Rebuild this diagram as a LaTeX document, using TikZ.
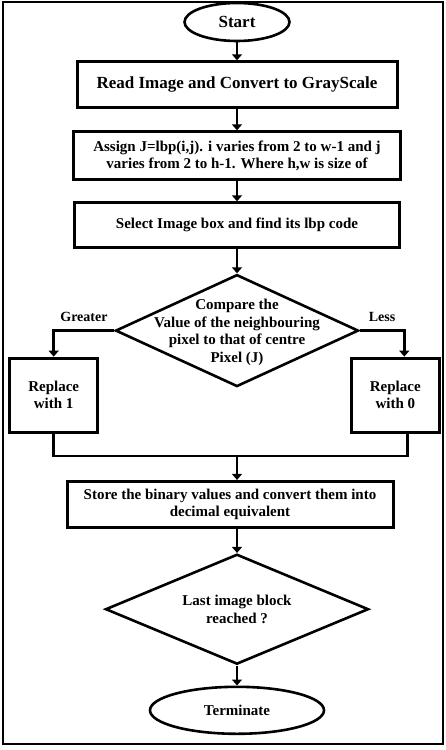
\documentclass[tikz,border=0pt]{standalone}
\usepackage{fontspec}
\setmainfont{Liberation Serif}
\usetikzlibrary{positioning, arrows.meta, shapes.geometric, calc}

\begin{document}
\begin{tikzpicture}[x=1pt, y=1pt,
        term/.style={ellipse, draw=black, line width=2.6pt, minimum width=105pt, minimum height=38pt,
                     inner sep=0pt, font=\fontsize{17}{19}\selectfont\bfseries},
        box/.style={rectangle, draw=black, line width=3pt, minimum width=325pt, minimum height=46pt,
                    inner sep=2pt, align=center, font=\fontsize{15}{17.5}\selectfont\bfseries},
        sbox/.style={rectangle, draw=black, line width=3pt, minimum width=88pt, minimum height=74pt,
                     align=center, font=\fontsize{15}{17.5}\selectfont\bfseries},
        dec/.style={diamond, draw=black, line width=2.6pt, inner sep=0pt},
        dtext/.style={align=center, inner sep=0pt, font=\fontsize{15}{17.5}\selectfont\bfseries},
        lbl/.style={font=\fontsize{14}{16}\selectfont\bfseries},
        arrow/.style={-{Triangle[width=10pt, length=6pt]}, line width=2.6pt, draw=black},
        line/.style={line width=2.6pt, draw=black}
    ]
        \useasboundingbox (0,0) rectangle (446,-750);
        \draw[line width=2.5pt] (3,-2) rectangle (443,-744);

        \node[term] (start) at (237,-22) {Start};
        \node[box, minimum width=320pt, below=18pt of start,
              font=\fontsize{17}{19}\selectfont\bfseries] (read) {Read Image and Convert to GrayScale};
        \node[box, minimum width=327pt, minimum height=48pt, below=21pt of read] (assign)
             {Assign J=lbp(i,j). i varies from 2 to w-1 and j\\varies from 2 to h-1. Where h,w is size of};
        \node[box, minimum height=45pt, below=20pt of assign] (select) {Select Image box and find its lbp code};
        \node[dec, minimum width=243pt, minimum height=112pt, below=24pt of select] (cmp) {};
        \node[dtext] (cmptxt) at ([yshift=-2pt]cmp.center)
             {Compare the\\Value of the neighbouring\\pixel to that of centre\\Pixel (J)};
        \node[sbox, below left=26pt and 15pt of cmp.west] (one) {Replace\\with 1};
        \node[sbox, below right=26pt and -10pt of cmp.east] (zero) {Replace\\with 0};
        \node[box, minimum width=326pt, below=92pt of cmp, xshift=-7pt] (store)
             {Store the binary values and convert them into\\decimal equivalent};
        \node[dec, minimum width=263pt, minimum height=110pt, below=24pt of store, xshift=7pt] (last) {};
        \node[dtext] (lasttxt) at (last.center) {Last image block\\reached ?};
        \node[term, minimum width=174pt, minimum height=47pt, below=20pt of last,
              font=\fontsize{15}{17}\selectfont\bfseries] (stop) {Terminate};

        \coordinate (mrg) at ($(store.north -| cmp.south)+(0,24)$);

        \draw[arrow] (start) -- (read);
        \draw[arrow] (read) -- (assign);
        \draw[arrow] (assign) -- (select);
        \draw[arrow] (select) -- (cmp);
        \draw[arrow] (cmp.west) -| node[lbl, pos=0.25, above=4pt] {Greater} (one);
        \draw[arrow] (cmp.east) -| node[lbl, pos=0.25, above=4pt] {Less} ([xshift=9pt]zero.north);
        \draw[line] (one.south) |- (mrg) -| ([xshift=12pt]zero.south);
        \draw[arrow] (mrg) -- (mrg |- store.north);
        \draw[arrow] (store.south -| last.north) -- (last.north);
        \draw[arrow] (last) -- (stop);
    \end{tikzpicture}
\end{document}
